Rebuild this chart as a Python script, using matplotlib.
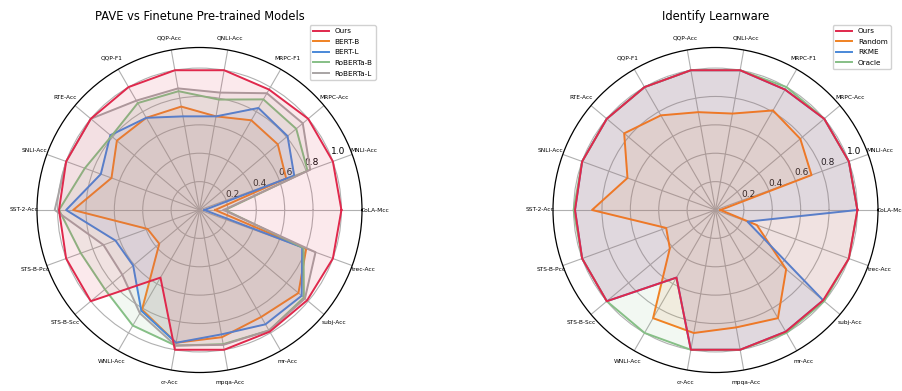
import numpy as np
import matplotlib
matplotlib.use("Agg")
import matplotlib.pyplot as plt

categories = ['CoLA-Mcc', 'MNLI-Acc', 'MRPC-Acc', 'MRPC-F1', 'QNLI-Acc', 'QQP-Acc',
              'QQP-F1', 'RTE-Acc', 'SNLI-Acc', 'SST-2-Acc', 'STS-B-Pcc', 'STS-B-Scc',
              'WNLI-Acc', 'cr-Acc', 'mpqa-Acc', 'mr-Acc', 'subj-Acc', 'trec-Acc']

# Left chart
ours = [1.0, 1.0, 1.0, 0.98, 1.0, 1.0, 1.0, 1.0, 1.0, 0.99, 1.0, 1.0, 0.55, 1.0, 1.0, 0.99, 0.99, 1.0]
bert_b = [0.11, 0.65, 0.72, 0.73, 0.67, 0.74, 0.75, 0.76, 0.66, 0.89, 0.39, 0.37, 0.81, 0.95, 0.91, 0.87, 0.91, 0.80]
bert_l = [0.035, 0.71, 0.81, 0.83, 0.67, 0.67, 0.75, 0.82, 0.74, 0.94, 0.63, 0.61, 0.82, 0.95, 0.89, 0.93, 0.94, 0.77]
roberta_b = [0.18, 0.81, 0.89, 0.90, 0.79, 0.85, 0.87, 0.81, 0.86, 0.99, 0.89, 0.87, 0.94, 0.97, 0.96, 0.98, 0.96, 0.78]
roberta_l = [0.17, 0.83, 0.95, 0.95, 0.84, 0.87, 0.89, 1.0, 1.0, 1.02, 0.72, 0.71, 0.84, 0.97, 0.965, 0.98, 0.97, 0.87]

# Right chart
random_sel = [0.035, 0.72, 0.78, 0.81, 0.69, 0.70, 0.77, 0.84, 0.66, 0.87, 0.37, 0.42, 0.88, 0.88, 0.84, 0.88, 0.65, 0.31]
rkme = [1.0, 1.0, 1.0, 0.98, 1.0, 1.0, 1.0, 1.0, 1.0, 0.99, 1.0, 1.0, 0.55, 1.0, 1.0, 0.99, 0.99, 0.24]
oracle = [1.0] * 18

radial_ticks = [0.2, 0.4, 0.6, 0.8, 1.0]

C_OURS = '#e0284c'
C_ORANGE = '#f08223'
C_BLUE = '#4a88d8'
C_GREEN = '#86bf86'
C_GRAY = '#a8a4a4'

fig = plt.figure(figsize=(9.03, 3.91), dpi=100)

n = len(categories)
angles = np.linspace(0, 2 * np.pi, n, endpoint=False)
closed_angles = np.concatenate([angles, angles[:1]])


def setup(ax, title):
    ax.set_ylim(0, 1.145)
    ax.set_xticks(angles)
    ax.set_xticklabels(categories, fontsize=4.2)
    ax.tick_params(axis='x', pad=-1.4)
    ax.set_yticks(radial_ticks)
    ax.set_yticklabels([str(t) for t in radial_ticks], fontsize=6.5)
    ax.set_rlabel_position(22.5)
    ax.grid(True, color='#b0b0b0', linewidth=0.8)
    ax.spines['polar'].set_linewidth(0.9)
    ax.set_title(title, fontsize=8.3, y=1.0, pad=20)


def plot_series(ax, vals, color, label, z):
    v = np.concatenate([vals, vals[:1]])
    ax.plot(closed_angles, v, color=color, linewidth=1.4, label=label, zorder=z)
    ax.fill(closed_angles, v, color=color, alpha=0.1, zorder=z - 0.5)


legend_kw = dict(loc='upper right', fontsize=5.2, handlelength=2.2,
                 borderpad=0.45, labelspacing=0.62, framealpha=0.9)

ax1 = fig.add_axes([37.0 / 903, (391 - 372.5) / 391, 325 / 903, 325 / 391], projection='polar')
setup(ax1, 'PAVE vs Finetune Pre-trained Models')
plot_series(ax1, ours, C_OURS, 'Ours', 6)
plot_series(ax1, bert_b, C_ORANGE, 'BERT-B', 3)
plot_series(ax1, bert_l, C_BLUE, 'BERT-L', 3.2)
plot_series(ax1, roberta_b, C_GREEN, 'RoBERTa-B', 3.4)
plot_series(ax1, roberta_l, C_GRAY, 'RoBERTa-L', 3.6)
ax1.legend(bbox_to_anchor=(379.5 / 903, 1 - 21.5 / 391),
           bbox_transform=fig.transFigure, **legend_kw)

ax2 = fig.add_axes([553.0 / 903, (391 - 372.5) / 391, 325 / 903, 325 / 391], projection='polar')
setup(ax2, 'Identify Learnware')
plot_series(ax2, ours, C_OURS, 'Ours', 6)
plot_series(ax2, random_sel, C_ORANGE, 'Random', 3)
plot_series(ax2, rkme, C_BLUE, 'RKME', 3.2)
plot_series(ax2, oracle, C_GREEN, 'Oracle', 3.4)
ax2.legend(bbox_to_anchor=(894.5 / 903, 1 - 21.5 / 391),
           bbox_transform=fig.transFigure, **legend_kw)

fig.savefig('out.png', dpi=100)
